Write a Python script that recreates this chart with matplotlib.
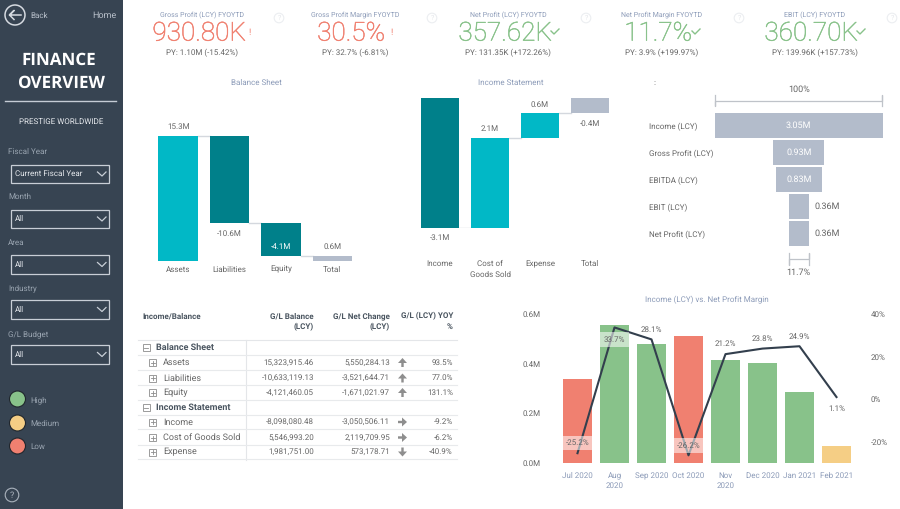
import matplotlib
matplotlib.use("Agg")
import matplotlib.pyplot as plt
import matplotlib.patheffects as pe
from matplotlib.patches import Rectangle, Circle, FancyArrow

plt.rcParams['font.family'] = ['Roboto', 'DejaVu Sans']
plt.rcParams['text.hinting'] = 'no_hinting'
plt.rcParams['text.hinting_factor'] = 1

# ---------- data ----------
kpi_titles = ["Gross Profit (LCY) FYOYTD", "Gross Profit Margin FYOYTD", "Net Profit (LCY) FYOYTD",
              "Net Profit Margin FYOYTD", "EBIT (LCY) FYOYTD"]
kpi_values = ["930.80K", "30.5%", "357.62K", "11.7%", "360.70K"]
kpi_py = ["PY: 1.10M (-15.42%)", "PY: 32.7% (-6.81%)", "PY: 131.35K (+172.26%)",
          "PY: 3.9% (+199.97%)", "PY: 139.96K (+157.73%)"]
kpi_good = [False, False, True, True, True]

bs_cats = ["Assets", "Liabilities", "Equity", "Total"]
bs_deltas = [15.3, -10.6, -4.1, 0.6]
bs_labels = ["15.3M", "-10.6M", "-4.1M", "0.6M"]

is_cats = ["Income", "Cost of\nGoods Sold", "Expense", "Total"]
is_deltas = [-3.05, 2.12, 0.57, -0.36]
is_labels = ["-3.1M", "2.1M", "0.6M", "-0.4M"]

fn_cats = ["Income (LCY)", "Gross Profit (LCY)", "EBITDA (LCY)", "EBIT (LCY)", "Net Profit (LCY)"]
fn_vals = [3.05, 0.93, 0.83, 0.36, 0.36]
fn_labels = ["3.05M", "0.93M", "0.83M", "0.36M", "0.36M"]

months = ["Jul 2020", "Aug\n2020", "Sep 2020", "Oct 2020", "Nov\n2020", "Dec 2020", "Jan 2021", "Feb 2021"]
income = [0.337, 0.554, 0.481, 0.511, 0.413, 0.403, 0.284, 0.070]
margin = [-25.2, 33.7, 28.1, -26.2, 21.2, 23.8, 24.9, 1.1]
status = ["low", "high", "high", "low", "high", "high", "high", "medium"]

tbl_head = ["Income/Balance", "G/L Balance\n(LCY)", "G/L Net Change\n(LCY)", "G/L (LCY) YOY\n%"]
tbl_names = ["Balance Sheet", "Assets", "Liabilities", "Equity", "Income Statement", "Income",
             "Cost of Goods Sold", "Expense"]
tbl_balance = ["", "15,323,915.46", "-10,633,119.13", "-4,121,460.05", "", "-8,098,080.48",
               "5,546,993.20", "1,981,751.00"]
tbl_change = ["", "5,550,284.13", "-3,521,644.71", "-1,671,021.97", "", "-3,050,506.11",
              "2,119,709.95", "573,178.71"]
tbl_yoy = ["", "93.5%", "77.0%", "131.1%", "", "-9.2%", "-6.2%", "-40.9%"]
tbl_dir = ["", "up", "up", "up", "", "right", "right", "down"]

slicers = ["Fiscal Year", "Month", "Area", "Industry", "G/L Budget"]
slicer_vals = ["Current Fiscal Year", "All", "All", "All", "All"]
legend_names = ["High", "Medium", "Low"]

# ---------- style ----------
NAVY = "#374452"
TEAL = "#00808A"
CYAN = "#01B8C6"
GREY = "#B3BCCB"
CONN = "#D4D8DE"
GREEN = "#88C28A"
RED = "#F08070"
YELLOW = "#F5CE85"
TITLE = "#8C9BB8"
TXT = "#666666"
STATUS = {"high": GREEN, "medium": YELLOW, "low": RED}
W, H = 900, 509

fig = plt.figure(figsize=(9, 5.09), dpi=100, facecolor="white")


def axpx(x0, y0, x1, y1, **kw):
    return fig.add_axes([x0 / W, 1 - y1 / H, (x1 - x0) / W, (y1 - y0) / H], **kw)


def clean(ax):
    ax.patch.set_alpha(0)
    for s in ax.spines.values():
        s.set_visible(False)
    ax.tick_params(length=0)


px = axpx(0, 0, W, H, zorder=0)
px.set_xlim(0, W)
px.set_ylim(H, 0)
px.axis("off")

# ---------- sidebar ----------
px.add_patch(Rectangle((0, 0), 123, H, color=NAVY, lw=0))
px.add_patch(Circle((15, 15), 10, fill=False, ec="#D5DAE0", lw=1.1))
px.plot([21, 9.5, 14, 9.5, 14], [15, 15, 10.5, 15, 19.5], color="#D5DAE0", lw=1.1)
px.text(30, 15.5, "Back", color="#B8C0CA", fontsize=5.9, va="center")
px.text(104.5, 15.5, "Home", color="#B8C0CA", fontsize=6.4, va="center", ha="center")
px.text(58.5, 60, "FINANCE", color="white", fontsize=12, fontweight="bold", ha="center", va="center", family="Open Sans")
px.text(60.5, 83, "OVERVIEW", color="white", fontsize=12, fontweight="bold", ha="center", va="center", family="Open Sans")
px.plot([5, 116], [100.5, 100.5], color="#C5CCD5", lw=1)
px.text(61, 121.5, "PRESTIGE WORLDWIDE", color="#E6E9ED", fontsize=5.75, ha="center", va="center")
slabel_y = [152, 197, 243, 288, 334]
sbox_y = [164.5, 209.5, 255, 300, 345]
for name, val, ly, by in zip(slicers, slicer_vals, slabel_y, sbox_y):
    px.text(8, ly, name, color="#9AA5B1", fontsize=5.6, va="center")
    px.add_patch(Rectangle((11, by), 98, 18.5, fill=False, ec="#C8CED6", lw=0.9))
    px.text(15, by + 9.5, val, color="#E6E9ED", fontsize=5.7, va="center")
    px.plot([97.5, 102, 106], [by + 7.5, by + 11.5, by + 7.5], color="#C8CED6", lw=0.9)
for name, c, y in zip(legend_names, [GREEN, YELLOW, RED], [399, 423, 446]):
    px.add_patch(Circle((17.5, y), 8, fc=c, ec="#20262D", lw=0.8))
    px.text(30, y + 1, name, color="#9AA5B1", fontsize=6, va="center")
px.add_patch(Circle((12, 495), 6.8, fill=False, ec="#AAB3BD", lw=0.8))
px.text(12, 495, "?", color="#AAB3BD", fontsize=6.5, ha="center", va="center")

# ---------- KPI cards ----------
cx_title = [202, 355, 508, 662, 815]
cx_value = [199, 351, 505, 658, 811]
cx_flag = [249, 391, 555, 696, 861]
cx_help = [279, 432, 586, 739, 892]
for t, v, p, good, a, b, c, d in zip(kpi_titles, kpi_values, kpi_py, kpi_good, cx_title, cx_value, cx_flag, cx_help):
    col = GREEN if good else RED
    px.text(a, 15, t, color=TITLE, fontsize=5.4, ha="center", va="center")
    px.text(b, 33.5, v, color=col, fontsize=18.8, ha="center", va="center", fontweight="light",
            path_effects=[pe.withStroke(linewidth=0.35, foreground=col)])
    px.text(a, 53, p, color=TXT, fontsize=5.75, ha="center", va="center")
    if good:
        px.plot([c - 4, c - 1, c + 4], [31, 34, 29], color=col, lw=1)
    else:
        px.text(c, 32, "!", color=col, fontsize=6.5, ha="center", va="center")
    px.add_patch(Circle((d, 18), 4.8, fill=False, ec="#ECEEF1", lw=0.8))
    px.text(d, 18, "?", color="#E3E6EA", fontsize=5, ha="center", va="center")


# ---------- waterfalls ----------
def waterfall(ax, cats, deltas, labels, scale_pad, pos_col, neg_col):
    level = 0.0
    for i, d in enumerate(deltas):
        if i == len(deltas) - 1:
            lo, hi = min(0, level), max(0, level)
            col = GREY
            end = level
        else:
            lo, hi = min(level, level + d), max(level, level + d)
            col = pos_col if d > 0 else neg_col
            end = level + d
        ax.bar(i, hi - lo, bottom=lo, width=0.77, color=col, lw=0, zorder=3)
        if i < len(deltas) - 1:
            ax.plot([i + 0.385, i + 1 - 0.385], [end, end], color=CONN, lw=1, zorder=2)
        level = end
    ax.set_xticks(range(len(cats)), cats, color=TXT, fontsize=6.1, linespacing=1.5)
    ax.set_yticks([])
    ax.tick_params(axis="x", pad=scale_pad)
    clean(ax)


bs = axpx(152.5, 130, 358, 261)
bs.set_xlim(-0.5, 3.5)
bs.set_ylim(0, 131 / 8.17)
waterfall(bs, bs_cats, bs_deltas, bs_labels, 3.2, CYAN, TEAL)
bs_tops = [15.3, 4.7, 0.6, 0.6]
bs_off = [9, -11, 9, 9]
bs_col = [TXT, TXT, "white", TXT]
for i, (lb, y, o, c) in enumerate(zip(bs_labels, bs_tops, bs_off, bs_col)):
    bs.annotate(lb, (i, y), xytext=(0, o * 0.72), textcoords="offset points", ha="center", va="center",
                color=c, fontsize=5.9, zorder=5)
px.text(256, 83, "Balance Sheet", color=TITLE, fontsize=6, ha="center", va="center")

ins = axpx(415, 98, 615, 228)
ins.set_xlim(-0.5, 3.5)
ins.set_ylim(-3.05, 0)
waterfall(ins, is_cats, is_deltas, is_labels, 23, CYAN, TEAL)
is_tops = [-3.05, -0.93, -0.36, -0.36]
is_off = [-10, 8.5, 8.5, -10.5]
for i, (lb, y, o) in enumerate(zip(is_labels, is_tops, is_off)):
    ins.annotate(lb, (i, y), xytext=(0, o * 0.72), textcoords="offset points", ha="center", va="center",
                 color=TXT, fontsize=5.9, annotation_clip=False, zorder=5)
px.text(511, 83, "Income Statement", color=TITLE, fontsize=6, ha="center", va="center")

# ---------- funnel ----------
fn = axpx(715, 112, 882.5, 247)
fn.set_xlim(-fn_vals[0] / 2, fn_vals[0] / 2)
fn.set_ylim(len(fn_vals) - 0.5, -0.5)
for i, (v, lb) in enumerate(zip(fn_vals, fn_labels)):
    fn.barh(i, v, left=-v / 2, height=0.9, color=GREY, lw=0)
    if v > 0.5:
        fn.text(0, i, lb, color="white", fontsize=6.4, ha="center", va="center")
    else:
        fn.annotate(lb, (v / 2, i), xytext=(4, 0), textcoords="offset points", color=TXT, fontsize=6.4, va="center")
fn.set_xticks([])
fn.set_yticks(range(len(fn_cats)), fn_cats, color=TXT, fontsize=5.7, ha="left")
fn.tick_params(axis="y", pad=47.5)
clean(fn)
px.text(654.5, 83, ":", color=TXT, fontsize=6, ha="center", va="center")
px.text(798.7, 89, "100%", color=TXT, fontsize=6.8, ha="center", va="center")
px.plot([715, 715, 715, 882, 882, 882], [95, 106, 100.5, 100.5, 95, 106], color="#BFC3C9", lw=0.9)
px.text(798.7, 272, "11.7%", color=TXT, fontsize=6.8, ha="center", va="center")
px.plot([789, 789, 789, 809, 809, 809], [253, 265, 259, 259, 253, 265], color="#BFC3C9", lw=0.9)

# ---------- table ----------
rows_y = [347.7, 362.5, 378, 392.5, 407.5, 422, 437.5, 452]
HEAD = "#4A5560"
px.text(142, 316, tbl_head[0], color=HEAD, fontsize=6.1, fontweight="bold", va="center")
for h, xr in zip(tbl_head[1:], [314, 390, 453]):
    px.text(xr, 321.5, h, color=HEAD, fontsize=6, fontweight="bold", va="center", ha="right", linespacing=1.45)
px.plot([138, 457], [339.5, 339.5], color="#E4E6E9", lw=0.8)
px.plot([246, 246], [339.5, 459.5], color="#E4E6E9", lw=0.8)
for i, (n, a, b, c, d, y) in enumerate(zip(tbl_names, tbl_balance, tbl_change, tbl_yoy, tbl_dir, rows_y)):
    px.plot([138, 457], [y + 7.2, y + 7.2], color="#E8EAEC", lw=0.8)
    header = a == ""
    bx = 146 if header else 152.5
    px.add_patch(Rectangle((bx - 3.5, y - 3.5), 7, 7, fill=False, ec="#8C8C8C", lw=0.6))
    px.plot([bx - 2, bx + 2], [y, y], color="#8C8C8C", lw=0.6)
    if not header:
        px.plot([bx, bx], [y - 2, y + 2], color="#8C8C8C", lw=0.6)
        px.text(163, y, n, color=TXT, fontsize=6.3, va="center")
        px.text(314, y, a, color=TXT, fontsize=6, va="center", ha="right")
        px.text(390, y, b, color=TXT, fontsize=6, va="center", ha="right")
        px.text(453, y, c, color=TXT, fontsize=6.1, va="center", ha="right")
        dx, dy = {"up": (0, -9), "down": (0, 9), "right": (9, 0)}[d]
        px.add_patch(FancyArrow(402.5 - dx / 2, y - dy / 2, dx, dy, width=2.4, head_width=9, head_length=5,
                                length_includes_head=True, color="#8E8E8E", lw=0))
    else:
        px.text(156.5, y, n, color=HEAD, fontsize=6.3, fontweight="bold", va="center")

# ---------- combo chart ----------
ax = axpx(559, 314, 855, 463)
ax.set_xlim(-0.5, 7.5)
ax.set_ylim(0, 0.6)
ax.bar(range(len(income)), income, width=0.78, color=[STATUS[s] for s in status], lw=0)
ax.set_xticks(range(len(months)), months, color=TITLE, fontsize=5.7, linespacing=1.35)
ax.set_yticks([0, 0.2, 0.4, 0.6], ["0.0M", "0.2M", "0.4M", "0.6M"], color=TXT, fontsize=5.8)
ax.tick_params(axis="y", pad=13)
ax.tick_params(axis="x", pad=6.5)
clean(ax)
ax2 = ax.twinx()
ax2.set_ylim(-149 * 20 / 42.7 + 40, 40)
ax2.plot(range(len(margin)), margin, color="#333F4D", lw=1.5, zorder=5)
ax2.set_yticks([-20, 0, 20, 40], ["-20%", "0%", "20%", "40%"], color=TXT, fontsize=5.8)
ax2.tick_params(axis="y", pad=11.5)
clean(ax2)
below = [1, 7]
for i, m in enumerate(margin):
    off = -12 if i in below else 10
    kw = {}
    if i in (0, 1, 3):
        kw["bbox"] = dict(fc="white", ec="none", alpha=0.55, pad=2.5)
    ax2.annotate(f"{m:.1f}%", (i, m), xytext=(0, off * 0.72), textcoords="offset points", ha="center", va="center",
                 color=TXT, fontsize=5.9, zorder=6, **kw)
px.text(707, 299.5, "Income (LCY) vs. Net Profit Margin", color=TITLE, fontsize=6, ha="center", va="center")

fig.savefig("out.png", dpi=100)
